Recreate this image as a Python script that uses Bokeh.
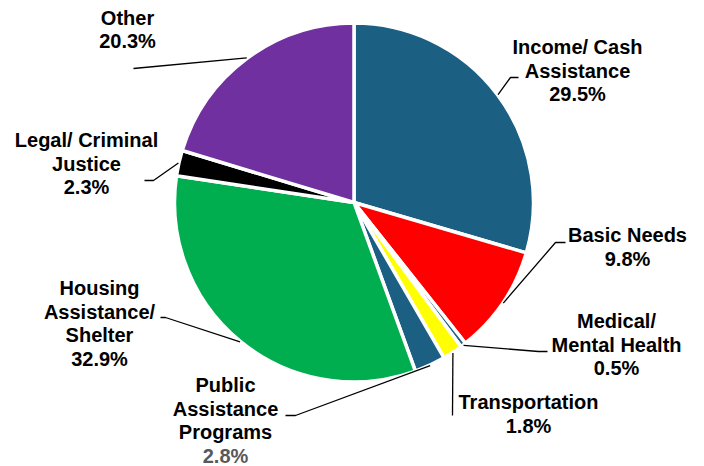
import math
from bokeh.plotting import figure
from bokeh.models import Range1d, ColumnDataSource
from bokeh.core.properties import value
from bokeh.embed import file_html
from bokeh.resources import INLINE

categories = ["Income/ Cash\nAssistance", "Basic Needs", "Medical/\nMental Health",
              "Transportation", "Public\nAssistance\nPrograms", "Housing\nAssistance/\nShelter",
              "Legal/ Criminal\nJustice", "Other"]
values = [29.5, 9.8, 0.5, 1.8, 2.8, 32.9, 2.3, 20.3]
colors = ["#1b5f82", "#ff0000", "#1b5f82", "#ffff00", "#1b5f82", "#00ae50", "#000000", "#7030a0"]

W, H = 704, 466
def X(px):
    return px
def Y(py):
    return H - py

p = figure(width=W, height=H, output_backend="svg", toolbar_location=None,
           x_range=Range1d(0, W), y_range=Range1d(0, H),
           x_axis_type=None, y_axis_type=None, min_border=0)
p.grid.visible = False
p.outline_line_color = None
p.background_fill_color = "white"

cx, cy, r = X(353.5), Y(202), 179.5
total = sum(values)
starts, ends, mids = [], [], []
acc = 0.0
for v in values:
    a0 = math.pi / 2 - 2 * math.pi * acc / total
    acc += v
    a1 = math.pi / 2 - 2 * math.pi * acc / total
    starts.append(a1)
    ends.append(a0)
    mids.append((a0 + a1) / 2)

src = ColumnDataSource(dict(start=starts, end=ends, color=colors))
p.wedge(x=cx, y=cy, radius=r, start_angle="start", end_angle="end",
        fill_color="color", line_color="white", line_width=3.5, source=src)

# label layout: (center x, first-line cap-center y, leader label-side points) in reference pixels
layout = [
    (577, 47, [(518, 77), (510, 77)]),
    (627, 235, [(565, 242), (555, 242)]),
    (616, 321, [(547, 351), (538, 351)]),
    (528, 402, [(452, 415)]),
    (225, 385, [(285, 415), (295, 415)]),
    (99, 288, [(160, 317), (165, 317)]),
    (86, 140, [(144, 180), (153, 180)]),
    (127, 17.5, [(133, 68)]),
]
LH = 23.5
CAP = -0.5
for i, (cat, v) in enumerate(zip(categories, values)):
    lx, ly, pts = layout[i]
    lines = cat.split("\n")
    pct = f"{v}%"
    n = len(lines)
    tx = [X(lx)] * n
    ty = [Y(ly + k * LH + CAP) for k in range(n)]
    p.text(x=tx, y=ty, text=lines, text_align="center", text_baseline="alphabetic",
           text_font=value("Liberation Sans"), text_font_style="bold",
           text_font_size="20px", text_color="#000000")
    pc = "#595959" if i == 4 else "#000000"
    p.text(x=[X(lx)], y=[Y(ly + n * LH + CAP)], text=[pct], text_align="center",
           text_baseline="alphabetic", text_font=value("Liberation Sans"),
           text_font_style="bold", text_font_size="20px", text_color=pc)
    ex = cx + 180 * math.cos(mids[i])
    ey = cy + 180 * math.sin(mids[i])
    xs = [X(a) for a, b in pts] + [ex]
    ys = [Y(b) for a, b in pts] + [ey]
    p.line(xs, ys, line_color="black", line_width=1.3)

open("out.html", "w").write(file_html(p, INLINE))
